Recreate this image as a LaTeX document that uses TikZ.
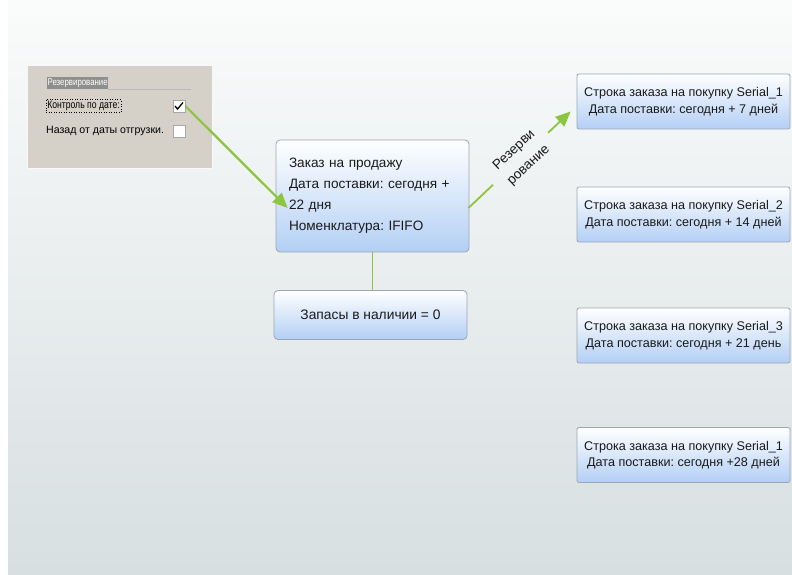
\documentclass[tikz,border=0pt]{standalone}
\usepackage{fontspec}
\setmainfont{Liberation Sans}
\usetikzlibrary{calc,arrows.meta}
\frenchspacing
\definecolor{bgtop}{HTML}{FAFBFB}
\definecolor{bgbot}{HTML}{D7DFE1}
\definecolor{panel}{HTML}{D5D1C9}
\definecolor{hdr}{HTML}{8E8E8C}
\definecolor{boxblue}{HTML}{B3CFF5}
\definecolor{boxline}{HTML}{9DA7B2}
\definecolor{grn}{HTML}{8CC540}
\definecolor{txt}{HTML}{1A1A1A}
\tikzset{
  bluebox/.style={draw=boxline, line width=0.8pt, top color=white, bottom color=boxblue, rounded corners=4pt, text=txt},
  rbox/.style={bluebox, rounded corners=2pt, minimum width=213pt, minimum height=55pt, align=center, inner sep=0pt,
     font=\fontsize{12.6}{16.5}\selectfont},
  garrow/.style={draw=grn, line width=2.2pt, -{Triangle[length=15pt,width=13pt]}},
  gline/.style={draw=grn, line width=2.2pt},
  chkbox/.style={draw=gray!70, fill=white, minimum size=12pt, inner sep=0pt, line width=0.8pt},
}
\begin{document}
\begin{tikzpicture}[x=1pt,y=-1pt]
\useasboundingbox (0,0) rectangle (792,575);
\shade[top color=bgtop, bottom color=bgbot] (8,0) rectangle (792,575);

% dialog panel
\node[fill=panel, draw=white!85!panel, minimum width=185pt, minimum height=103pt, inner sep=0pt, anchor=north west] (dlg) at (27,65) {};
\node[fill=hdr, text=white, inner sep=0pt, minimum width=61pt, minimum height=12pt, anchor=north west, font=\fontsize{9.8}{10}\selectfont] (hdr) at (47,76.5) {\scalebox{0.8}[1]{Резервирование}};
\draw[draw=gray!55, line width=0.6pt] (hdr.south east) -- ++(83,0);
\node[draw=black, dotted, line width=0.5pt, inner xsep=1pt, inner ysep=1.5pt, anchor=west, text=black, font=\fontsize{10.8}{11}\selectfont] (ctl) at (46,106) {\scalebox{0.8}[1]{Контроль по дате:}};
\node[chkbox] (chk1) at (179,106) {};
\draw[line width=1.3pt, black] ($(chk1.center)+(-4,0)$) -- ($(chk1.center)+(-1.5,3)$) -- ($(chk1.center)+(4,-3.5)$);
\node[anchor=west, text=black, inner sep=0pt, font=\fontsize{10.6}{11}\selectfont] (back) at (46,131) {Назад от даты отгрузки.};
\node[chkbox] (chk2) at (179,131.5) {};

% main box
\node[bluebox, minimum width=193pt, minimum height=112pt, text width=167pt, inner xsep=13pt, align=left,
  font=\fontsize{13.6}{21}\selectfont] (main) at (372.5,196)
  {Заказ на продажу\\Дата поставки: сегодня +\\22 дня\\Номенклатура: IFIFO};

% stock box
\node[bluebox, minimum width=193pt, minimum height=49pt, font=\fontsize{13.8}{15}\selectfont] (stock) at (370.5,315) {Запасы в наличии = 0};

% right boxes
\node[rbox] (r1) at (683.5,101.5) {Строка заказа на покупку Serial\_1\\Дата поставки: сегодня + 7 дней};
\node[rbox] (r2) at (683.5,214.5) {Строка заказа на покупку Serial\_2\\Дата поставки: сегодня + 14 дней};
\node[rbox] (r3) at (683.5,335.5) {Строка заказа на покупку Serial\_3\\Дата поставки: сегодня + 21 день};
\node[rbox] (r4) at (683.5,455) {Строка заказа на покупку Serial\_1\\Дата поставки: сегодня +28 дней};

% connectors
\draw[garrow] (chk1.east) -- ($(main.west)+(12,12)$);
\draw[gline, line width=1.8pt] (main.south) -- (main.south |- stock.north);

\coordinate (rs) at ($(main.east)+(-1,12)$);
\coordinate (re) at ($(r1.west)+(-6,10)$);
\draw[gline, line width=1.8pt] (rs) -- ($(rs)!0.24!(re)$);
\draw[garrow, line width=1.8pt] ($(rs)!0.78!(re)$) -- (re);
\node[rotate=43, align=center, text=txt, font=\fontsize{13.6}{21}\selectfont] (lbl) at ($(rs)!0.52!(re)$) {Резерви\\рование};
\end{tikzpicture}
\end{document}
